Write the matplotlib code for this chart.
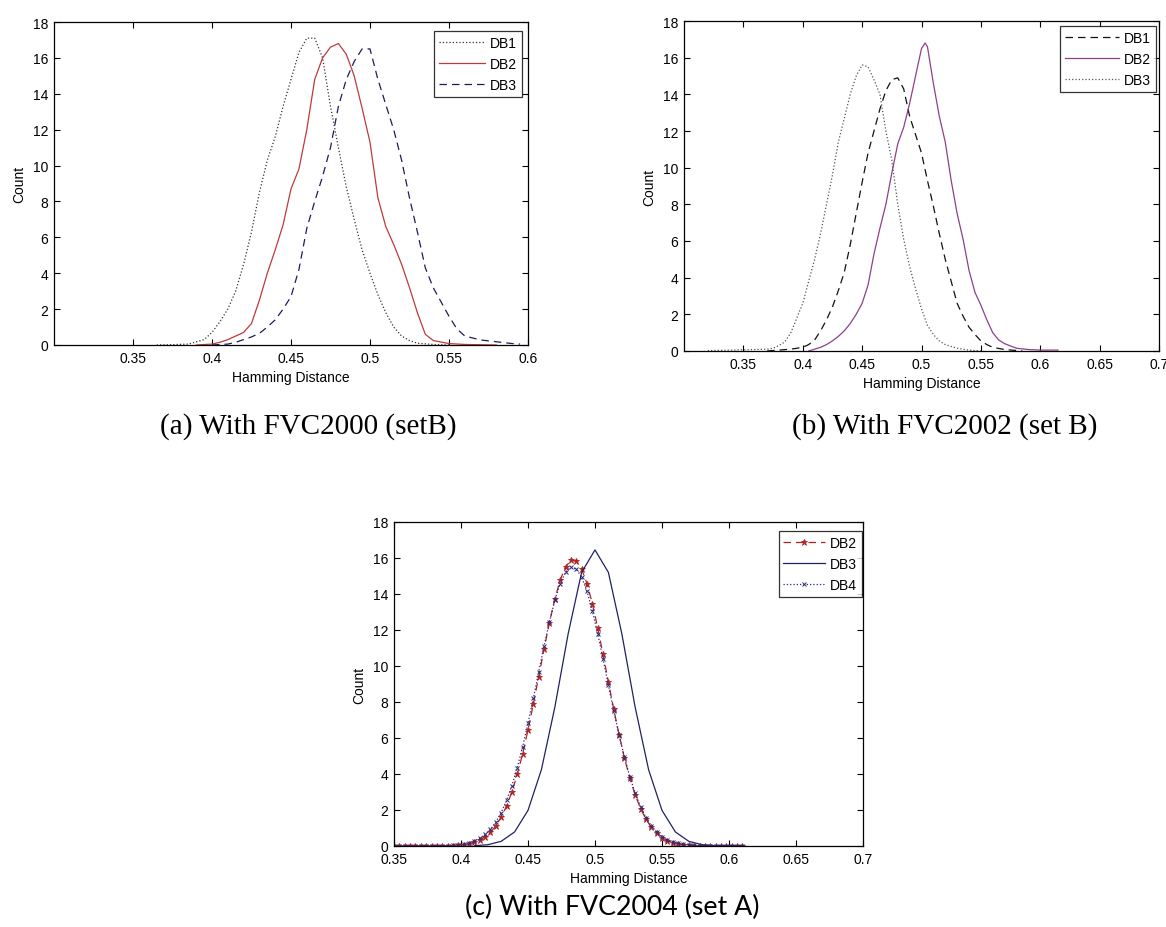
import numpy as np
import matplotlib
matplotlib.use("Agg")
import matplotlib.pyplot as plt

plt.rcParams['font.family'] = ['Liberation Sans', 'DejaVu Sans']

# ---- (a) FVC2000 set B ----
xa_db1 = [0.365, 0.375, 0.385, 0.395, 0.400, 0.405, 0.410, 0.415, 0.420, 0.425, 0.430, 0.435,
          0.440, 0.445, 0.450, 0.455, 0.460, 0.465, 0.470, 0.475, 0.480, 0.485, 0.490, 0.495,
          0.500, 0.505, 0.510, 0.515, 0.520, 0.525, 0.530, 0.540, 0.550]
ya_db1 = [0.0, 0.02, 0.05, 0.3, 0.7, 1.3, 2.0, 3.0, 4.5, 6.3, 8.5, 10.3,
          11.6, 13.3, 14.8, 16.3, 17.1, 17.1, 16.0, 13.3, 11.0, 8.8, 7.0, 5.3,
          4.0, 2.8, 1.8, 1.0, 0.5, 0.25, 0.1, 0.03, 0.0]

xa_db2 = [0.390, 0.400, 0.405, 0.410, 0.415, 0.420, 0.425, 0.430, 0.435, 0.440, 0.445, 0.450,
          0.455, 0.460, 0.465, 0.470, 0.475, 0.480, 0.485, 0.490, 0.495, 0.500, 0.505, 0.510,
          0.515, 0.520, 0.525, 0.530, 0.535, 0.540, 0.550, 0.560, 0.580]
ya_db2 = [0.0, 0.05, 0.15, 0.3, 0.5, 0.7, 1.2, 2.5, 4.0, 5.3, 6.7, 8.7,
          9.8, 12.0, 14.8, 16.0, 16.6, 16.8, 16.2, 15.0, 13.2, 11.3, 8.2, 6.6,
          5.6, 4.5, 3.2, 1.8, 0.6, 0.25, 0.08, 0.03, 0.0]

xa_db3 = [0.400, 0.410, 0.415, 0.420, 0.425, 0.430, 0.435, 0.440, 0.445, 0.450, 0.455, 0.460,
          0.465, 0.470, 0.475, 0.480, 0.485, 0.490, 0.495, 0.500, 0.505, 0.510, 0.515, 0.520,
          0.525, 0.530, 0.535, 0.540, 0.545, 0.550, 0.555, 0.560, 0.570, 0.580, 0.590, 0.595]
ya_db3 = [0.0, 0.05, 0.15, 0.3, 0.45, 0.65, 1.0, 1.4, 2.0, 2.7, 4.2, 6.5,
          8.0, 9.4, 11.0, 13.3, 14.8, 15.8, 16.5, 16.5, 14.8, 13.4, 12.0, 10.3,
          8.2, 6.3, 4.3, 3.2, 2.4, 1.6, 0.9, 0.5, 0.28, 0.18, 0.08, 0.05]

# ---- (b) FVC2002 set B ----
xb_db1 = [0.370, 0.380, 0.390, 0.400, 0.405, 0.410, 0.415, 0.420, 0.425, 0.430, 0.435, 0.440,
          0.445, 0.450, 0.455, 0.460, 0.465, 0.470, 0.475, 0.480, 0.485, 0.490, 0.495, 0.500,
          0.505, 0.510, 0.515, 0.520, 0.525, 0.530, 0.535, 0.540, 0.545, 0.550, 0.555, 0.560,
          0.570, 0.585]
yb_db1 = [0.0, 0.05, 0.1, 0.2, 0.35, 0.6, 1.1, 1.7, 2.4, 3.3, 4.3, 5.8,
          7.5, 9.2, 10.8, 12.0, 13.2, 14.2, 14.8, 14.9, 14.3, 12.8, 11.8, 10.8,
          9.3, 7.9, 6.4, 5.0, 3.8, 2.6, 1.9, 1.3, 0.9, 0.55, 0.35, 0.2,
          0.08, 0.0]

xb_db2 = [0.405, 0.415, 0.420, 0.425, 0.430, 0.435, 0.440, 0.445, 0.450, 0.455, 0.460, 0.465,
          0.470, 0.475, 0.480, 0.485, 0.490, 0.495, 0.500, 0.503, 0.505, 0.510, 0.515, 0.520,
          0.525, 0.530, 0.535, 0.540, 0.545, 0.550, 0.555, 0.560, 0.565, 0.570, 0.580, 0.590,
          0.600, 0.615]
yb_db2 = [0.0, 0.2, 0.35, 0.55, 0.8, 1.1, 1.5, 2.0, 2.6, 3.6, 5.3, 6.7,
          8.0, 9.7, 11.3, 12.2, 13.5, 15.0, 16.5, 16.8, 16.6, 14.6, 12.8, 11.4,
          9.3, 7.5, 6.1, 4.4, 3.2, 2.5, 1.7, 1.0, 0.6, 0.4, 0.15, 0.08,
          0.05, 0.05]

xb_db3 = [0.320, 0.340, 0.360, 0.370, 0.375, 0.380, 0.385, 0.390, 0.395, 0.400, 0.405, 0.410,
          0.415, 0.420, 0.425, 0.430, 0.435, 0.440, 0.445, 0.450, 0.455, 0.460, 0.465, 0.470,
          0.475, 0.480, 0.485, 0.490, 0.495, 0.500, 0.505, 0.510, 0.515, 0.520, 0.530, 0.540,
          0.550]
yb_db3 = [0.02, 0.05, 0.08, 0.1, 0.15, 0.3, 0.5, 1.0, 1.8, 2.6, 3.8, 5.0,
          6.4, 8.0, 9.6, 11.4, 12.7, 14.0, 15.0, 15.6, 15.5, 14.8, 14.0, 12.0,
          10.4, 8.0, 6.1, 4.6, 3.4, 2.3, 1.4, 0.9, 0.55, 0.35, 0.15, 0.05,
          0.0]

# ---- (c) FVC2004 set A ----
xc = np.round(np.arange(0.350, 0.6101, 0.004), 3)
yc_db2 = [0, 0, 0, 0, 0, 0, 0, 0, 0.004, 0.008,
          0.014, 0.026, 0.045, 0.077, 0.13, 0.21, 0.33, 0.51, 0.76, 1.12,
          1.60, 2.22, 3.01, 3.98, 5.13, 6.44, 7.89, 9.41, 10.95, 12.41,
          13.71, 14.77, 15.51, 15.87, 15.83, 15.39, 14.58, 13.47, 12.13, 10.64,
          9.11, 7.59, 6.17, 4.88, 3.77, 2.84, 2.08, 1.49, 1.04, 0.71,
          0.47, 0.30, 0.19, 0.12, 0.07, 0.04, 0.02, 0.01, 0.005,
          0, 0, 0, 0, 0, 0, 0]
yc_db4 = [0, 0, 0, 0, 0, 0, 0, 0, 0.005, 0.01,
          0.02, 0.04, 0.07, 0.11, 0.18, 0.28, 0.43, 0.64, 0.93, 1.33,
          1.86, 2.53, 3.36, 4.36, 5.52, 6.81, 8.21, 9.67, 11.11, 12.46,
          13.64, 14.58, 15.21, 15.49, 15.39, 14.94, 14.15, 13.08, 11.80, 10.40,
          8.94, 7.51, 6.15, 4.92, 3.84, 2.93, 2.18, 1.58, 1.12, 0.78,
          0.52, 0.35, 0.22, 0.14, 0.09, 0.05, 0.03, 0.02, 0.01,
          0.005, 0, 0, 0, 0, 0, 0]
xc_db3 = [0.41, 0.42, 0.43, 0.44, 0.45, 0.46, 0.47, 0.48, 0.49, 0.50, 0.51,
          0.52, 0.53, 0.54, 0.55, 0.56, 0.57, 0.58, 0.59, 0.60, 0.61]
yc_db3 = [0.015, 0.07, 0.26, 0.78, 1.98, 4.24, 7.7, 11.8, 15.2, 16.45, 15.2,
          11.8, 7.7, 4.24, 1.98, 0.78, 0.26, 0.07, 0.015, 0.0, 0.0]

W, H = 1166, 928
fig = plt.figure(figsize=(W / 100, H / 100), dpi=100)


def add_axes(left, top, right, bottom):
    return fig.add_axes([left / W, 1 - bottom / H, (right - left) / W, (bottom - top) / H])


def style(ax, xlim, xticks):
    ax.set_xlim(*xlim)
    ax.set_ylim(0, 18)
    ax.set_yticks(range(0, 19, 2))
    ax.set_xticks(xticks)
    ax.set_xticklabels(['%g' % t for t in xticks])
    ax.tick_params(direction='in', length=4.5, width=0.8, labelsize=10,
                   top=True, right=True, pad=4)
    for s in ax.spines.values():
        s.set_linewidth(0.9)
    ax.set_xlabel('Hamming Distance', fontsize=10, labelpad=4)
    ax.set_ylabel('Count', fontsize=10, labelpad=5)


def legend(ax, right_px, top_px, hlen):
    # place the box by its upper-right corner, given as inset in pixels
    bb = ax.get_position()
    ax_w, ax_h = bb.width * W, bb.height * H
    leg = ax.legend(loc='upper right', bbox_to_anchor=(1 - right_px / ax_w, 1 - top_px / ax_h),
                    borderaxespad=0, fontsize=10, handlelength=hlen, handletextpad=0.35,
                    labelspacing=0.5, borderpad=0.35, fancybox=False, frameon=True,
                    numpoints=1)
    leg.get_frame().set_edgecolor('black')
    leg.get_frame().set_linewidth(0.9)
    return leg


# (a)
ax1 = add_axes(54, 23, 528, 346)
ax1.plot(xa_db1, ya_db1, linestyle=':', color='#333333', lw=0.9, label='DB1')
ax1.plot(xa_db2, ya_db2, linestyle='-', color='#c0393b', lw=0.9, label='DB2')
ax1.plot(xa_db3, ya_db3, linestyle=(0, (6, 4)), color='#1c1c5e', lw=0.9, label='DB3')
style(ax1, (0.3, 0.6), [0.35, 0.4, 0.45, 0.5, 0.55, 0.6])
legend(ax1, 6, 9, 3.3)

# (b)
ax2 = add_axes(684, 22, 1159, 352)
ax2.plot(xb_db1, yb_db1, linestyle=(0, (6, 4)), color='#111111', lw=0.9, label='DB1')
ax2.plot(xb_db2, yb_db2, linestyle='-', color='#8e3f8c', lw=0.9, label='DB2')
ax2.plot(xb_db3, yb_db3, linestyle=':', color='#555555', lw=0.9, label='DB3')
style(ax2, (0.3, 0.7), [0.35, 0.4, 0.45, 0.5, 0.55, 0.6, 0.65, 0.7])
legend(ax2, 3, 5, 3.9)

# (c)
ax3 = add_axes(394, 523, 863, 847)
ax3.plot(xc, yc_db2, linestyle=(0, (6, 4)), color='#b22222', lw=0.9, marker='*',
         markersize=4.5, markeredgewidth=0.6, label='DB2')
ax3.plot(xc_db3, yc_db3, linestyle='-', color='#1f2266', lw=0.9, label='DB3')
ax3.plot(xc, yc_db4, linestyle=':', color='#2a2a80', lw=0.9, marker='x',
         markersize=3.5, markeredgewidth=0.7, label='DB4')
style(ax3, (0.35, 0.7), [0.35, 0.4, 0.45, 0.5, 0.55, 0.6, 0.65, 0.7])
legend(ax3, 1, 9, 3.0)

# captions
fig.text(308 / W, 1 - 427 / H, '(a) With FVC2000 (setB)', ha='center', va='center',
         fontsize=21, family='Liberation Serif')
fig.text(945 / W, 1 - 427 / H, '(b) With FVC2002 (set B)', ha='center', va='center',
         fontsize=21, family='Liberation Serif')
fig.text(612 / W, 1 - 907 / H, '(c) With FVC2004 (set A)', ha='center', va='center',
         fontsize=19.3, family='Lato')

fig.savefig('out.png', dpi=100)
